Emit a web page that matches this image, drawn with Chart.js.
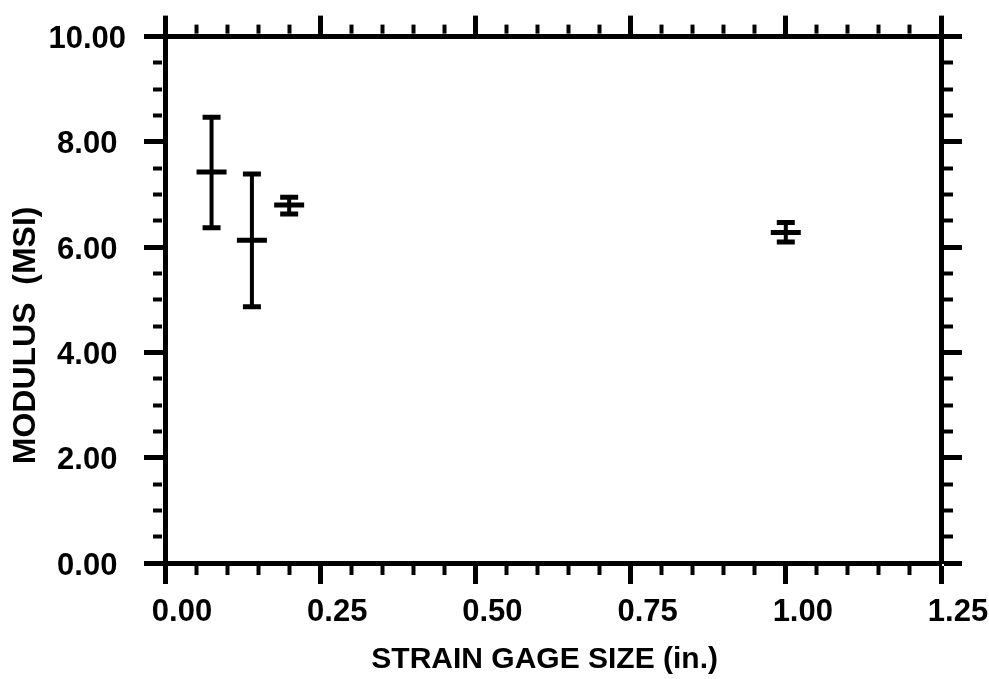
<!DOCTYPE html>
<html>
<head>
<meta charset="utf-8">
<script src="https://cdn.jsdelivr.net/npm/chart.js@4.4.1/dist/chart.umd.min.js"></script>
<style>
  html, body { margin: 0; padding: 0; background: #fff; }
  #wrap { width: 989px; height: 679px; position: relative; }
</style>
</head>
<body>
<div id="wrap"><canvas id="c"></canvas></div>
<script>
// gage size (in.) and modulus (MSI)
const gageSize = [0.075, 0.14, 0.2, 1.0];
const modulusMean = [7.43, 6.13, 6.80, 6.28];
const modulusHigh = [8.47, 7.39, 6.95, 6.47];
const modulusLow = [6.37, 4.87, 6.63, 6.10];

// axis ranges / ticks
const xRange = [0, 1.25], xMajor = 0.25, xMinor = 0.05;
const yRange = [0, 10], yMajor = 2, yMinor = 0.5;

const FONT = "'Liberation Sans', Arial, Helvetica, sans-serif";

function isMajor(v, step){
    var r = v / step;
    return Math.abs(r - Math.round(r)) < 1e-6;
}

// tick style: long solid major, short minor (dash keeps only the part next to the axis)
function tickGrid(step, outerFirst){
    return {
        drawOnChartArea: false,
        drawTicks: true,
        tickLength: 21,
        tickColor: '#000',
        tickWidth: function(c){ return isMajor(c.tick.value, step) ? 5 : 4; },
        tickBorderDash: function(c){
            if (isMajor(c.tick.value, step)) return [];
            return outerFirst ? [9, 9] : [9, 40];
        },
        tickBorderDashOffset: function(c){
            return (outerFirst && !isMajor(c.tick.value, step)) ? 9 : 0;
        }
    };
}
var axisBorder = {display: true, color: '#000', width: 5};

// error bars: one little line per point, caps drawn as 'line' points
var datasets = [];
datasets.push({
    label: 'mean',
    data: gageSize.map(function(x, i){ return {x: x, y: modulusMean[i]}; }),
    showLine: false,
    pointStyle: 'line',
    pointRadius: 15,
    pointBorderWidth: 5,
    borderColor: '#000',
    backgroundColor: '#000'
});
for (var i = 0; i < gageSize.length; i++) {
    datasets.push({
        label: 'range' + i,
        data: [{x: gageSize[i], y: modulusLow[i]}, {x: gageSize[i], y: modulusHigh[i]}],
        showLine: true,
        borderColor: '#000',
        borderWidth: 4,
        pointStyle: 'line',
        pointRadius: 9,
        pointBorderWidth: 5,
        pointBorderColor: '#000',
        backgroundColor: '#000'
    });
}

var myChart = new Chart(document.getElementById('c'), {
    type: 'scatter',
    data: {datasets: datasets},
    options: {
        responsive: true,
        maintainAspectRatio: false,
        animation: false,
        layout: {padding: 0},
        plugins: {legend: {display: false}, tooltip: {enabled: false}},
        scales: {
            x: {
                type: 'linear', position: 'bottom',
                min: xRange[0], max: xRange[1],
                afterFit: function(s){ s.height = 116; },
                border: axisBorder,
                grid: tickGrid(xMajor, false),
                ticks: {
                    stepSize: xMinor, autoSkip: false, maxRotation: 0,
                    color: '#000', padding: 10, labelOffset: 17,
                    font: {family: FONT, weight: 'bold', size: 31},
                    callback: function(v){ return isMajor(v, xMajor) ? v.toFixed(2) : ''; }
                },
                title: {
                    display: true, text: 'STRAIN GAGE SIZE (in.)  ', color: '#000',
                    font: {family: FONT, weight: 'bold', size: 30},
                    padding: {top: 0, bottom: 1}
                }
            },
            x2: {
                type: 'linear', axis: 'x', position: 'top',
                min: xRange[0], max: xRange[1],
                afterFit: function(s){ s.height = 34; },
                border: axisBorder,
                grid: tickGrid(xMajor, true),
                ticks: {stepSize: xMinor, autoSkip: false, display: false}
            },
            y: {
                type: 'linear', position: 'left',
                min: yRange[0], max: yRange[1],
                afterFit: function(s){ s.width = 165; },
                border: axisBorder,
                grid: tickGrid(yMajor, true),
                ticks: {
                    stepSize: yMinor, autoSkip: false,
                    color: '#000', padding: 18, labelOffset: 3, crossAlign: 'center',
                    font: {family: FONT, weight: 'bold', size: 31},
                    callback: function(v){ return isMajor(v, yMajor) ? v.toFixed(2) : ''; }
                },
                title: {
                    display: true, text: 'MODULUS  (MSI)        ', color: '#000',
                    font: {family: FONT, weight: 'bold', size: 32},
                    padding: {top: 7, bottom: 0}
                }
            },
            y2: {
                type: 'linear', axis: 'y', position: 'right',
                min: yRange[0], max: yRange[1],
                afterFit: function(s){ s.width = 48; },
                border: axisBorder,
                grid: tickGrid(yMajor, false),
                ticks: {stepSize: yMinor, autoSkip: false, display: false}
            }
        }
    }
});
</script>
</body>
</html>
